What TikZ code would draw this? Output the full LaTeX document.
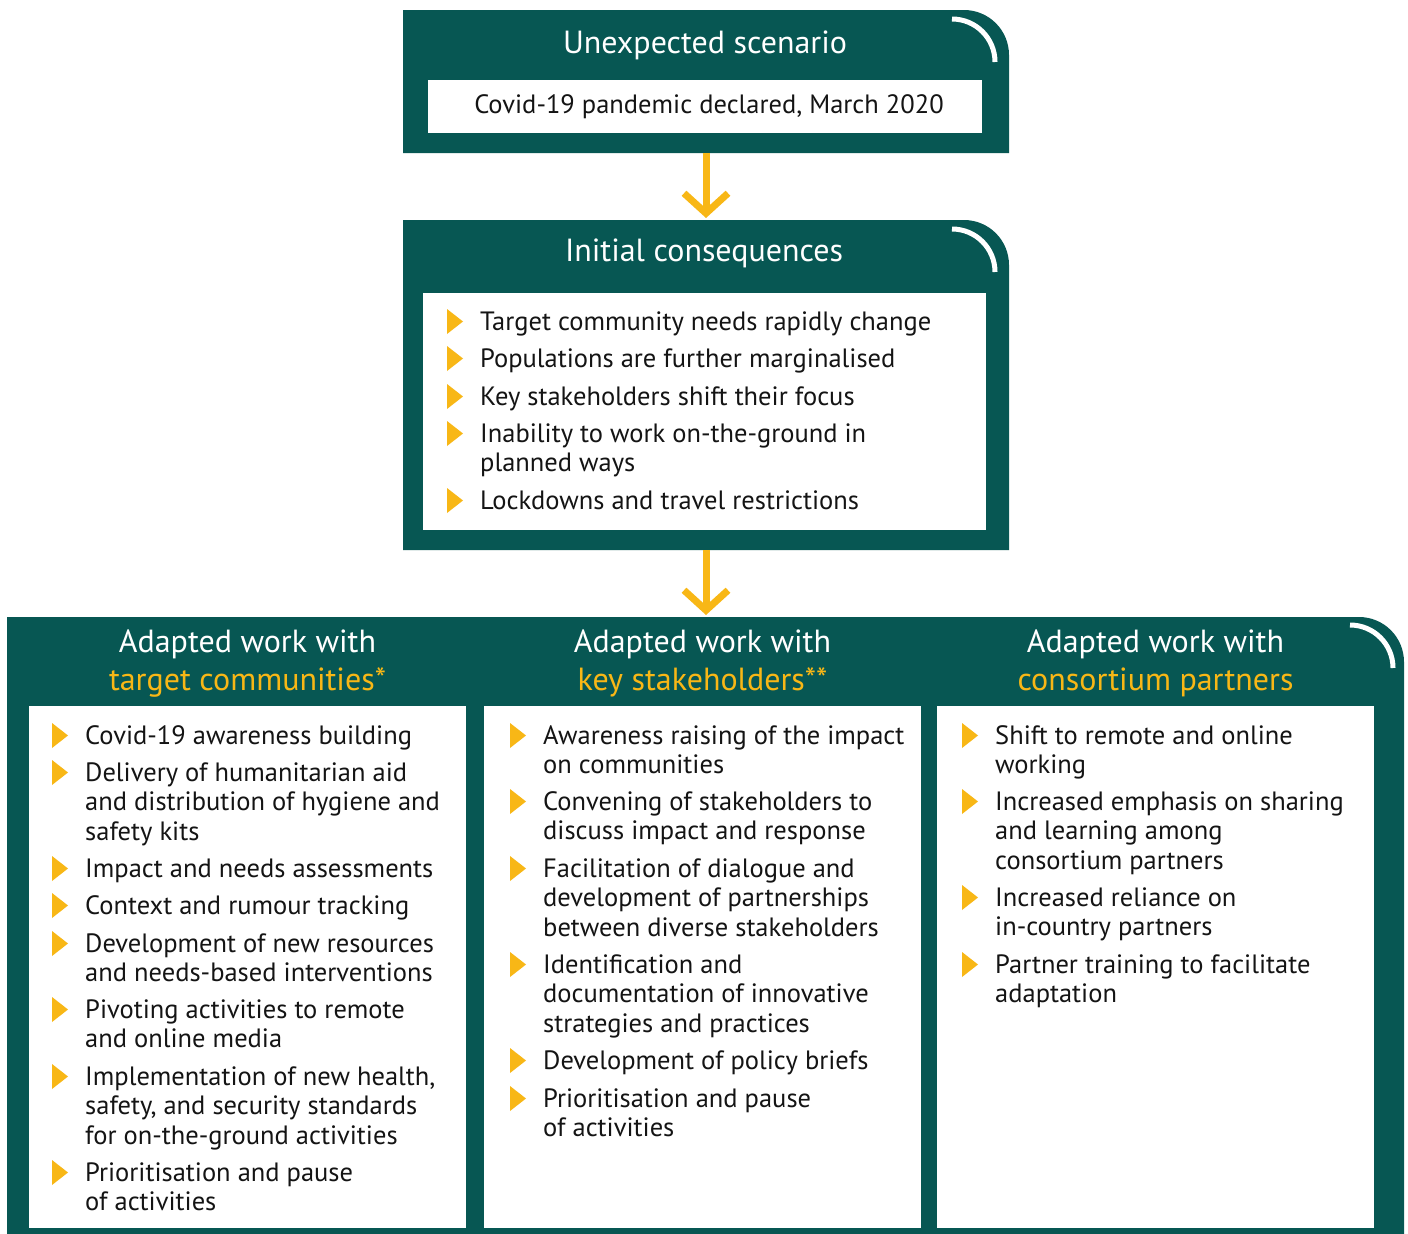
\documentclass[tikz,border=0pt]{standalone}
\usepackage{fontspec}
\setmainfont{PT Sans}
\usetikzlibrary{arrows.meta}
\definecolor{dk}{RGB}{7,87,83}
\definecolor{yel}{RGB}{248,183,22}
\definecolor{txt}{RGB}{20,20,20}
\tikzset{
  itemtext/.style={anchor=base west, inner sep=0pt, text=txt, font=\fontsize{26.5}{29.5}\selectfont},
  titletext/.style={anchor=base, inner sep=0pt, text=white, font=\fontsize{32}{36}\selectfont},
  headtext/.style={anchor=base, inner sep=0pt, text=white, font=\fontsize{32}{38}\selectfont},
  deco/.style={draw=white, line width=5pt},
  yarrow/.style={draw=yel, line width=7pt, -{Straight Barb[length=20pt,width=44pt]}},
}
\newcommand\bul[4]{%
  \fill[yel] (#2,#3-21) -- (#2,#3+4) -- (#2+16,#3-8.5) -- cycle;
  \node[itemtext] (#1) at (#2+33,#3) {\begin{tabular}[t]{@{}l@{}}#4\end{tabular}};}
\newcommand\hd[1]{\begin{tabular}[t]{@{}c@{}}Adapted work with\\\textcolor{yel}{#1}\end{tabular}}
\begin{document}
\begin{tikzpicture}[x=1pt,y=-1pt]
\useasboundingbox (0,0) rectangle (1408,1234);
% box 1
\fill[dk] (403,153) -- (403,10) -- (964,10) arc[start angle=90,end angle=0,radius=45pt] -- (1009,153) -- cycle;
\draw[deco] (952,19) arc[start angle=90,end angle=0,radius=43pt];
\fill[white] (428,80) rectangle (982,133);
\node[titletext] (t1) at (705,53) {Unexpected scenario};
\node[itemtext, anchor=base] (s1) at (709,113) {Covid-19 pandemic declared, March 2020};
\coordinate (b1s) at (706,153);
% box 2
\fill[dk] (403,550) -- (403,220) -- (964,220) arc[start angle=90,end angle=0,radius=45pt] -- (1009,550) -- cycle;
\draw[deco] (952,229) arc[start angle=90,end angle=0,radius=43pt];
\fill[white] (423,293) rectangle (986,530);
\node[titletext] (t2) at (704,261) {Initial consequences};
\coordinate (b2n) at (706,220);
\coordinate (b2s) at (706,550);
\bul{c1}{447}{330}{Target community needs rapidly change}
\bul{c2}{447}{367}{Populations are further marginalised}
\bul{c3}{447}{405}{Key stakeholders shift their focus}
\bul{c4}{447}{442}{Inability to work on-the-ground in\\planned ways}
\bul{c5}{447}{509}{Lockdowns and travel restrictions}
% box 3
\fill[dk] (7,1234) -- (7,617) -- (1359,617) arc[start angle=90,end angle=0,radius=45pt] -- (1404,1234) -- cycle;
\draw[deco] (1350,625) arc[start angle=90,end angle=0,radius=43pt];
\coordinate (b3n) at (706,617);
\fill[white] (29,706) rectangle (466,1228);
\fill[white] (484,706) rectangle (921,1228);
\fill[white] (937,706) rectangle (1374,1228);
\node[headtext] (h1) at (247.5,652) {\hd{target communities*}};
\node[headtext] (h2) at (702.5,652) {\hd{key stakeholders**}};
\node[headtext] (h3) at (1155.5,652) {\hd{consortium partners}};
% arrows
\draw[yarrow] (b1s) -- ([yshift=2pt]b2n);
\draw[yarrow] (b2s) -- ([yshift=2pt]b3n);
% panel 1
\bul{p1a}{52}{744}{Covid-19 awareness building}
\bul{p1b}{52}{781}{Delivery of humanitarian aid\\and distribution of hygiene and\\safety kits}
\bul{p1c}{52}{877}{Impact and needs assessments}
\bul{p1d}{52}{914}{Context and rumour tracking}
\bul{p1e}{52}{952}{Development of new resources\\and needs-based interventions}
\bul{p1f}{52}{1018}{Pivoting activities to remote\\and online media}
\bul{p1g}{52}{1085}{Implementation of new health,\\safety, and security standards\\for on-the-ground activities}
\bul{p1h}{52}{1181}{Prioritisation and pause\\of activities}
% panel 2
\bul{p2a}{510}{744}{Awareness raising of the impact\\on communities}
\bul{p2b}{510}{810}{Convening of stakeholders to\\discuss impact and response}
\bul{p2c}{510}{877}{Facilitation of dialogue and\\development of partnerships\\between diverse stakeholders}
\bul{p2d}{510}{973}{Identification and\\documentation of innovative\\strategies and practices}
\bul{p2e}{510}{1069}{Development of policy briefs}
\bul{p2f}{510}{1107}{Prioritisation and pause\\of activities}
% panel 3
\bul{p3a}{962}{744}{Shift to remote and online\\working}
\bul{p3b}{962}{810}{Increased emphasis on sharing\\and learning among\\consortium partners}
\bul{p3c}{962}{906}{Increased reliance on\\in-country partners}
\bul{p3d}{962}{973}{Partner training to facilitate\\adaptation}
\end{tikzpicture}
\end{document}
